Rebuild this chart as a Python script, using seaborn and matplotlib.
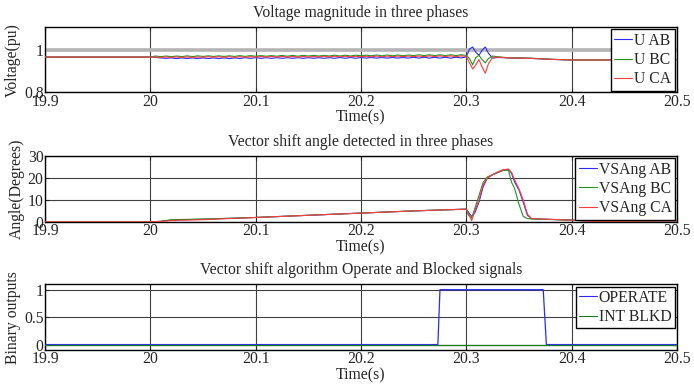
import numpy as np
import pandas as pd
import matplotlib
matplotlib.use("Agg")
import matplotlib.pyplot as plt
import seaborn as sns

# ---- voltage magnitude (pu) ----
t_ripple = list(np.round(20.0 + 0.005 * np.arange(61), 3))
t_trans = [20.303, 20.306, 20.309, 20.312, 20.315, 20.318, 20.321, 20.325, 20.33,
           20.34, 20.36, 20.38, 20.4, 20.42, 20.44, 20.47, 20.5]
t_volt = [19.9] + t_ripple + t_trans

u_ab = [0.967,
        0.967, 0.966, 0.963, 0.961, 0.963, 0.960, 0.963, 0.960, 0.963, 0.960, 0.963,
        0.960, 0.963, 0.960, 0.963, 0.960, 0.963, 0.960, 0.964, 0.961, 0.964,
        0.961, 0.964, 0.961, 0.964, 0.961, 0.964, 0.961, 0.964, 0.961, 0.964,
        0.961, 0.964, 0.961, 0.964, 0.961, 0.965, 0.961, 0.965, 0.961, 0.965,
        0.962, 0.965, 0.962, 0.965, 0.962, 0.965, 0.962, 0.965, 0.962, 0.966,
        0.962, 0.966, 0.962, 0.966, 0.962, 0.966, 0.962, 0.966, 0.963, 0.968,
        1.005, 1.015, 0.990, 0.975, 1.000, 1.015, 0.985, 0.962, 0.965,
        0.963, 0.961, 0.956, 0.953, 0.953, 0.953, 0.954, 0.955]
u_bc = [0.967,
        0.967, 0.972, 0.969, 0.972, 0.969, 0.972, 0.969, 0.973, 0.969, 0.973, 0.970,
        0.973, 0.970, 0.973, 0.970, 0.973, 0.970, 0.974, 0.970, 0.974, 0.971,
        0.974, 0.971, 0.974, 0.971, 0.975, 0.971, 0.975, 0.971, 0.975, 0.972,
        0.975, 0.972, 0.975, 0.972, 0.976, 0.972, 0.976, 0.972, 0.976, 0.973,
        0.976, 0.973, 0.977, 0.973, 0.977, 0.973, 0.977, 0.973, 0.977, 0.974,
        0.978, 0.974, 0.978, 0.974, 0.978, 0.974, 0.978, 0.974, 0.978, 0.975,
        0.960, 0.930, 0.965, 0.975, 0.955, 0.940, 0.960, 0.972, 0.968,
        0.964, 0.962, 0.957, 0.953, 0.953, 0.953, 0.954, 0.955]
u_ca = [0.967,
        0.967, 0.967, 0.965, 0.968, 0.965, 0.968, 0.965, 0.968, 0.965, 0.968, 0.966,
        0.969, 0.966, 0.969, 0.966, 0.969, 0.966, 0.969, 0.966, 0.969, 0.967,
        0.970, 0.967, 0.970, 0.967, 0.970, 0.967, 0.970, 0.967, 0.970, 0.967,
        0.970, 0.968, 0.971, 0.968, 0.971, 0.968, 0.971, 0.968, 0.971, 0.968,
        0.971, 0.968, 0.972, 0.968, 0.972, 0.969, 0.972, 0.969, 0.972, 0.969,
        0.972, 0.969, 0.973, 0.969, 0.973, 0.969, 0.973, 0.969, 0.973, 0.970,
        0.940, 0.910, 0.930, 0.955, 0.920, 0.890, 0.935, 0.965, 0.967,
        0.963, 0.961, 0.956, 0.953, 0.953, 0.953, 0.954, 0.955]

# ---- vector shift angle (degrees) ----
t_ang = [19.9, 20.0, 20.01, 20.02, 20.05, 20.1, 20.15, 20.2, 20.25, 20.3, 20.302,
         20.305, 20.308, 20.312, 20.316, 20.32, 20.325, 20.33, 20.335, 20.34, 20.343,
         20.346, 20.35, 20.354, 20.358, 20.362, 20.37, 20.4, 20.42, 20.45, 20.5]
vs_ab = [0, 0, 0.2, 0.8, 1.2, 2.0, 3.0, 4.0, 5.0, 5.8, 4.5,
         2.5, 4.0, 9.0, 16.0, 20.0, 21.5, 22.5, 23.5, 24.0, 22.0,
         18.0, 14.5, 9.0, 3.0, 1.5, 1.3, 0.8, 0.3, 0.3, 0.5]
vs_bc = [0, 0, 0.3, 1.0, 1.3, 2.0, 3.0, 4.0, 5.0, 5.8, 3.0,
         1.8, 6.0, 12.0, 18.0, 20.5, 21.5, 22.5, 23.5, 23.5, 18.0,
         15.0, 8.0, 2.5, 1.5, 1.3, 1.2, 0.8, 0.3, 0.3, 0.5]
vs_ca = [0, 0, 0.2, 0.6, 1.0, 2.0, 3.0, 4.0, 5.0, 5.8, 4.0,
         0.5, 5.0, 10.0, 17.0, 20.0, 21.5, 22.8, 23.8, 24.0, 22.5,
         19.0, 15.0, 10.0, 3.5, 1.5, 1.3, 0.8, 0.3, 0.3, 0.5]

# ---- binary outputs ----
t_bin = [19.9, 20.273, 20.275, 20.373, 20.376, 20.5]
operate = [0, 0, 1, 1, 0, 0]
int_blkd = [0, 0, 0, 0, 0, 0]

df_v = pd.DataFrame({"t": t_volt, "U AB": u_ab, "U BC": u_bc, "U CA": u_ca}).melt(
    id_vars="t", var_name="sig", value_name="val")
df_a = pd.DataFrame({"t": t_ang, "VSAng AB": vs_ab, "VSAng BC": vs_bc, "VSAng CA": vs_ca}).melt(
    id_vars="t", var_name="sig", value_name="val")
df_b = pd.DataFrame({"t": t_bin, "OPERATE": operate, "INT BLKD": int_blkd}).melt(
    id_vars="t", var_name="sig", value_name="val")

sns.set_style("ticks")
plt.rcParams["font.family"] = ["Liberation Serif", "DejaVu Serif"]
fs = 11.3
plt.rcParams["font.size"] = fs

blue, green, red = "#2a2aff", "#1f961f", "#ff3a3a"

fig = plt.figure(figsize=(6.94, 3.92), dpi=100)
ax1 = fig.add_axes([0.0648, 0.765, 0.9107, 0.166])
ax2 = fig.add_axes([0.0648, 0.434, 0.9107, 0.168])
ax3 = fig.add_axes([0.0648, 0.107, 0.9107, 0.168])

ax1.axhline(1.0, color="#b4b4b4", lw=2.6, zorder=1)
sns.lineplot(data=df_v, x="t", y="val", hue="sig", estimator=None, sort=False,
             palette=[blue, green, red], lw=0.8, ax=ax1, zorder=3)
sns.lineplot(data=df_a, x="t", y="val", hue="sig", estimator=None, sort=False,
             palette=[blue, green, red], lw=0.8, ax=ax2, zorder=3)
sns.lineplot(data=df_b, x="t", y="val", hue="sig", estimator=None, sort=False,
             palette=[blue, "#1a7a1a"], lw=0.9, ax=ax3, zorder=3)

ax1.set_ylim(0.8, 1.11)
ax1.set_yticks([0.8, 1])
ax1.set_yticklabels(["0.8", "1"])
ax2.set_ylim(0, 30)
ax2.set_yticks([0, 10, 20, 30])
ax3.set_ylim(-0.1, 1.1)
ax3.set_yticks([0, 0.5, 1])
ax3.set_yticklabels(["0", "0.5", "1"])

titles = ["Voltage magnitude in three phases",
          "Vector shift angle detected in three phases",
          "Vector shift algorithm Operate and Blocked signals"]
ylabels = ["Voltage(pu)", "Angle(Degrees)", "Binary outputs"]
for ax, ttl, yl in zip([ax1, ax2, ax3], titles, ylabels):
    ax.set_xlim(19.9, 20.5)
    ax.set_xticks([19.9, 20.0, 20.1, 20.2, 20.3, 20.4, 20.5])
    ax.set_xticklabels(["19.9", "20", "20.1", "20.2", "20.3", "20.4", "20.5"])
    ax.set_title(ttl, fontsize=fs, pad=7)
    ax.set_ylabel(yl, fontsize=fs, labelpad=2)
    ax.set_xlabel("Time(s)", fontsize=fs, labelpad=0)
    ax.grid(True, color="#404040", lw=0.8, zorder=0)
    ax.set_axisbelow(True)
    ax.tick_params(direction="in", top=True, right=True, length=3, pad=1, labelsize=fs)
    for s in ax.spines.values():
        s.set_color("black")
        s.set_linewidth(1.0)
    leg = ax.legend(loc="upper right", frameon=True, fancybox=False, edgecolor="black",
                    framealpha=1, fontsize=fs, handlelength=1.15, handletextpad=0.12,
                    borderpad=0.2, labelspacing=0.22, borderaxespad=0.15, title=None)
    leg.get_frame().set_linewidth(1.0)
    for ln in leg.get_lines():
        ln.set_linewidth(0.8)

fig.savefig("out.png", dpi=100)
